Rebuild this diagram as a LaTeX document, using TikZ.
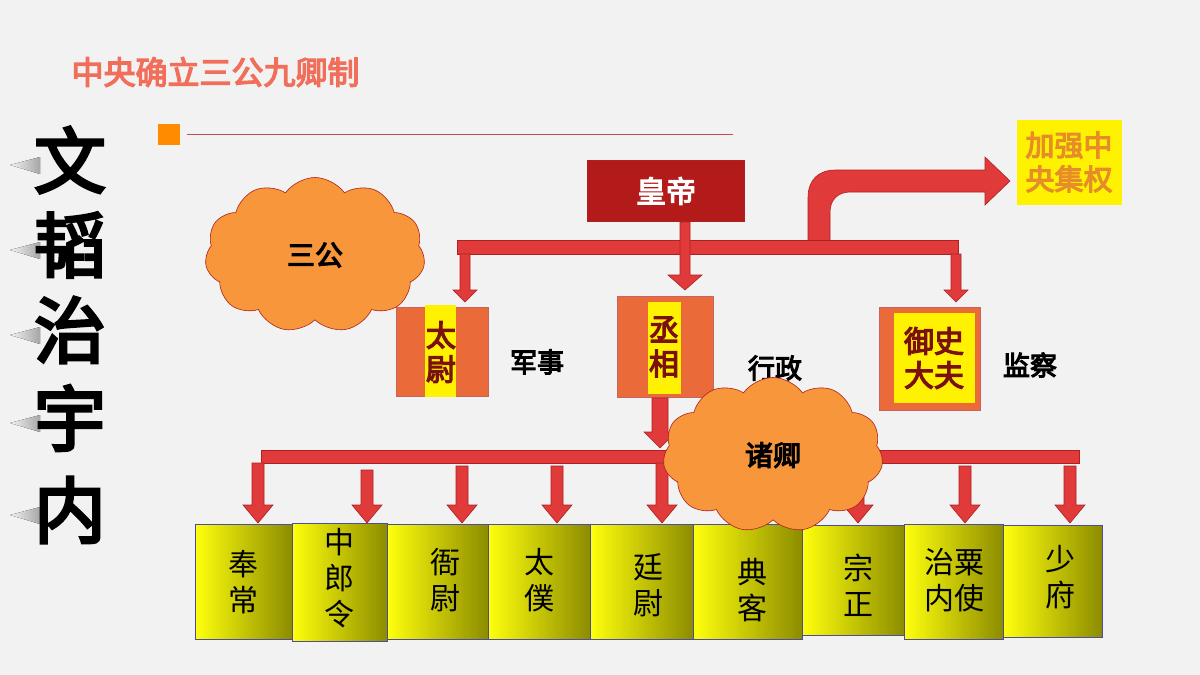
\documentclass[tikz,border=0pt]{standalone}
\usepackage{fontspec}
\setmainfont{Noto Sans CJK SC}
\newfontfamily\cjkb{Noto Sans CJK SC}[FakeBold=4]
\usetikzlibrary{shapes.symbols}
\definecolor{bg}{HTML}{F2F2F2}
\definecolor{arr}{HTML}{E03A3A}
\definecolor{arrd}{HTML}{B02020}
\definecolor{emp}{HTML}{B31B1B}
\definecolor{offc}{HTML}{EA6A3A}
\definecolor{dred}{HTML}{7A1010}
\definecolor{cloudc}{HTML}{F7963A}
\definecolor{olive}{HTML}{8C8C00}
\tikzset{
 bar/.style={fill=arr,draw=arrd,line width=0.6pt},
 cloudn/.style={cloud,cloud puffs=11,cloud puff arc=110,aspect=1.4,fill=cloudc,draw=arrd,line width=0.6pt,inner sep=0pt},
 office/.style={fill=offc,draw=arrd!70,line width=0.6pt},
 strip/.style={fill=yellow,draw=none},
 otext/.style={font=\cjkb\fontsize{30}{34}\selectfont,text=dred,align=center},
 lab/.style={font=\cjkb\fontsize{27}{30}\selectfont,text=black},
 minister/.style={left color=yellow!95!white,right color=olive,draw=blue!50!black!70,line width=0.8pt},
 mtext/.style={font=\fontsize{30}{36}\selectfont,text=black,align=center},
}
\begin{document}
\begin{tikzpicture}[x=1pt,y=-1pt]
\useasboundingbox (0,0) rectangle (1200,675);
\fill[bg] (0,0) rectangle (1200,675);
% title
\node[font=\cjkb\fontsize{32}{36}\selectfont,text={rgb,255:red,240;green,110;blue,90},anchor=west] (title) at (68,72) {中央确立三公九卿制};
\fill[orange!90!yellow] (158,124) rectangle (180,145);
\draw[arrd!80,line width=0.6pt] (187,134) -- (733,134);
% left vertical text with gray smear shadows
\foreach \c/\y in {文/160,韬/245,治/330,宇/418,内/510}{
 \fill[left color=bg,right color=gray!70] (10,\y+5) -- (40,\y-3) -- (40,\y+14) -- cycle;
 \node[font=\cjkb\fontsize{72}{72}\selectfont,text=black] (v\c) at (70,\y) {\c};
}
% clouds 三公
\node[cloudn,minimum width=220,minimum height=155] (sangong) at (315,255) {};
\node[font=\cjkb\fontsize{28}{30}\selectfont] (sgt) at (sangong.center) {三公};
% emperor
\node[fill=emp,draw=arrd,minimum width=157,minimum height=61,font=\cjkb\fontsize{30}{34}\selectfont,text=white] (hd) at (666,191) {皇帝};
% curved arrow to 加强中央集权
\path[bar] (808,252) -- (808,198) .. controls (808,180) and (818,170) .. (836,170) -- (985,170) -- (985,157) -- (1010,181) -- (985,205) -- (985,192) -- (850,192) .. controls (838,192) and (830,200) .. (830,212) -- (830,252) -- cycle;
\node[fill=yellow,minimum width=105,minimum height=85,inner sep=0pt,font=\cjkb\fontsize{29}{34}\selectfont,text={rgb,255:red,230;green,140;blue,40},align=center] (jq) at (1069,162) {加强中\\央集权};
% top bar
\path[bar] (457,240) rectangle (958,254);
\path[bar] (680,222) -- (690,222) -- (690,275) -- (702,275) -- (685,290) -- (668,275) -- (680,275) -- cycle;
\path[bar] (460,254) -- (470,254) -- (470,290) -- (477,290) -- (465,302) -- (453,290) -- (460,290) -- cycle;
\path[bar] (951,254) -- (961,254) -- (961,290) -- (968,290) -- (956,302) -- (944,290) -- (951,290) -- cycle;
% offices
\node[office,minimum width=92,minimum height=89] (tw) at (442,352) {};
\fill[strip] (425,305) rectangle (456,397);
\node[otext] (twt) at (441,352) {太\\尉};
\node[lab] (js) at (537,362) {军事};
\node[office,minimum width=96,minimum height=101] (cx) at (665,347) {};
\fill[strip] (648,302) rectangle (681,394);
\node[otext] (cxt) at (664,347) {丞\\相};
\node[lab] (xz) at (775,368) {行政};
\node[office,minimum width=101,minimum height=103] (ys) at (930,359) {};
\fill[strip] (894,313) rectangle (975,403);
\node[otext] (yst) at (934,358) {御史\\大夫};
\node[lab] (jc) at (1030,365) {监察};
% down from 丞相
\path[bar] (652,398) -- (668,398) -- (668,432) -- (676,432) -- (660,448) -- (644,432) -- (652,432) -- cycle;
% bottom bar
\path[bar] (261,450) rectangle (1079,463);
\foreach \x/\t in {258/463,367/470,462/466,557/466,662/463,858/463,965/466,1070/466}{
 \path[bar] (\x-6,\t) -- (\x+6,\t) -- (\x+6,505) -- (\x+15,505) -- (\x,523) -- (\x-15,505) -- (\x-6,505) -- cycle;
}
% minister boxes
\node[minister,minimum width=97,minimum height=115,inner sep=0pt] (b1) at (243.5,582) {};
\node[mtext] at (b1) {奉\\常};
\node[minister,minimum width=95,minimum height=118,inner sep=0pt] (b2) at (339.5,582) {};
\node[mtext] at (339.5,578) {中\\郎\\令};
\node[minister,minimum width=101,minimum height=115,inner sep=0pt] (b3) at (437.5,582) {};
\node[mtext] at (445,580) {衙\\尉};
\node[minister,minimum width=102,minimum height=115,inner sep=0pt] (b4) at (539,582) {};
\node[mtext] at (539,580) {太\\僕};
\node[minister,minimum width=103,minimum height=115,inner sep=0pt] (b5) at (641.5,582) {};
\node[mtext] at (648,585) {廷\\尉};
\node[minister,minimum width=109,minimum height=115,inner sep=0pt] (b6) at (747.5,582) {};
\node[mtext] at (752,590) {典\\客};
\node[minister,minimum width=102,minimum height=110,inner sep=0pt] (b7) at (853,580) {};
\node[mtext] at (858,585) {宗\\正};
\node[minister,minimum width=99,minimum height=115,inner sep=0pt] (b8) at (953.5,582) {};
\node[mtext] at (954,580) {治粟\\内使};
\node[minister,minimum width=99,minimum height=112,inner sep=0pt] (b9) at (1052.5,581) {};
\node[mtext] at (1060,577) {少\\府};
% cloud 诸卿
\node[cloudn,minimum width=220,minimum height=155] (zq) at (773,455) {};
\node[font=\cjkb\fontsize{28}{30}\selectfont] (zqt) at (773,455) {诸卿};
\end{tikzpicture}
\end{document}
